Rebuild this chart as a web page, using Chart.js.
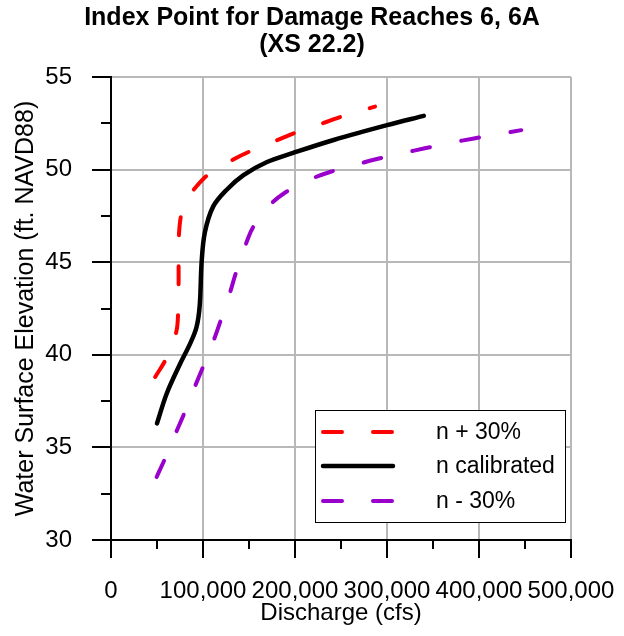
<!DOCTYPE html>
<html>
<head>
<meta charset="utf-8">
<title>Index Point for Damage Reaches 6, 6A</title>
<script src="https://cdn.jsdelivr.net/npm/chart.js@4.4.1/dist/chart.umd.min.js"></script>
<style>
html,body{margin:0;padding:0;background:#fff;}
#wrap{width:624px;height:636px;position:relative;}
</style>
</head>
<body>
<div id="wrap"><canvas id="rating"></canvas></div>
<script>
/* =========================
   DATA
========================= */
var xTickLabels = ["0","100,000","200,000","300,000","400,000","500,000"];

var plusQ = [48000,60000,71000,73000,73500,73500,74000,77000,84000,93000,107500,135000,155000,184000,204000,234000,254000,287000];
var plusW = [38.8,39.8,41.25,42.4,44.0,45.0,46.6,47.7,48.5,49.1,49.8,50.6,51.07,51.66,52.06,52.57,52.92,53.4];

var calQ = [50000,60500,75000,86000,93000,96500,98500,102000,111000,125500,144000,169000,198000,242000,300000,340000];
var calW = [36.3,37.9,39.5,40.6,41.5,42.7,45.0,46.6,48.0,48.9,49.7,50.4,50.9,51.6,52.4,52.9];

var minusQ = [49600,58700,70600,79700,91300,99700,111000,118500,129000,135000,145000,154000,171000,189000,215600,238000,267000,289000,318000,341000,370000,393000,423000,446000];
var minusW = [33.4,34.4,35.8,36.85,38.3,39.3,40.7,41.75,43.3,44.3,45.75,46.85,48.0,48.75,49.45,49.87,50.28,50.57,50.9,51.15,51.45,51.67,51.93,52.13];

var seriesNames = ["n + 30%","n calibrated","n - 30%"];

function toPoints(xs, ys){
var pts = [];
for(var i=0;i<xs.length;i++){
pts.push({x:xs[i], y:ys[i]});
}
return pts;
}

var FONT = "'Liberation Sans', Arial, sans-serif";

/* =========================
   OUTSIDE TICK MARKS (major + minor)
========================= */
var tickMarks = {
id:"tickMarks",
afterDraw:function(chart){
var ctx = chart.ctx;
var xs = chart.scales.x, ys = chart.scales.y;
var area = chart.chartArea;
ctx.save();
ctx.strokeStyle = "#000";
ctx.lineWidth = 2;
ctx.beginPath();
for(var v=xs.min; v<=xs.max; v+=50000){
var px = Math.round(xs.getPixelForValue(v));
var len = (v % 100000 === 0) ? 18 : 9;
ctx.moveTo(px, area.bottom);
ctx.lineTo(px, area.bottom + len);
}
for(var w=ys.min; w<=ys.max; w+=2.5){
var py = Math.round(ys.getPixelForValue(w));
var len2 = (w % 5 === 0) ? 19 : 10;
ctx.moveTo(area.left, py);
ctx.lineTo(area.left - len2, py);
}
ctx.stroke();
ctx.restore();
}
};

/* =========================
   LEGEND BOX (inside plot, lower right)
========================= */
var boxLegend = {
id:"boxLegend",
afterDatasetsDraw:function(chart){
var ctx = chart.ctx;
var area = chart.chartArea;
var left = area.right - 256, top = area.bottom - 130;
var w = 250, h = 112;
ctx.save();
ctx.fillStyle = "#fff";
ctx.fillRect(left, top, w, h);
ctx.strokeStyle = "#000";
ctx.lineWidth = 1;
ctx.strokeRect(left + 0.5, top + 0.5, w, h);

var rows = [22, 56, 91];
chart.data.datasets.forEach(function(ds, i){
var y = top + rows[i];
ctx.strokeStyle = ds.borderColor;
ctx.lineWidth = ds.borderWidth;
ctx.lineCap = "round";
ctx.setLineDash(ds.borderDash ? [19, 31] : []);
ctx.beginPath();
ctx.moveTo(left + 8, y);
ctx.lineTo(left + 78, y);
ctx.stroke();
ctx.setLineDash([]);
ctx.fillStyle = "#000";
ctx.font = "23px " + FONT;
ctx.textBaseline = "middle";
ctx.textAlign = "left";
ctx.fillText(ds.label, left + 121, y + 1);
});
ctx.restore();
}
};

/* =========================
   CHART
========================= */
var ctx = document.getElementById("rating").getContext("2d");

new Chart(ctx,{
type:"line",
data:{
datasets:[{
label:seriesNames[0],
data:toPoints(plusQ, plusW),
borderColor:"#ff0000",
borderWidth:4,
borderDash:[18,31],
borderCapStyle:"round",
tension:0.35
},{
label:seriesNames[1],
data:toPoints(calQ, calW),
borderColor:"#000000",
borderWidth:4.5,
borderCapStyle:"round",
tension:0.35
},{
label:seriesNames[2],
data:toPoints(minusQ, minusW),
borderColor:"#9900cc",
borderWidth:4,
borderDash:[18,32],
borderCapStyle:"round",
tension:0.35
}]
},
options:{
responsive:true,
maintainAspectRatio:false,
animation:false,
devicePixelRatio:1,
elements:{point:{radius:0}},
layout:{padding:0},
plugins:{
legend:{display:false},
tooltip:{enabled:false},
title:{
display:true,
text:["Index Point for Damage Reaches 6, 6A","(XS 22.2)"],
color:"#000",
font:{family:FONT, size:25, weight:"bold", lineHeight:1.1},
padding:{top:4, bottom:18}
}
},
scales:{
x:{
type:"linear",
min:0,
max:500000,
afterFit:function(scale){
scale.height = 96;
scale.paddingLeft = 0;
scale.paddingRight = 53;
},
ticks:{
stepSize:100000,
color:"#000",
font:{family:FONT, size:24},
padding:37,
maxRotation:0,
autoSkip:false,
callback:function(value){ return xTickLabels[Math.round(value/100000)]; }
},
grid:{color:"#b8b8b8", lineWidth:2, drawTicks:false},
border:{color:"#000", width:2},
title:{
display:true,
text:"Discharge (cfs)",
color:"#000",
font:{family:FONT, size:24},
padding:{top:0, bottom:8}
}
},
y:{
min:30,
max:55,
afterFit:function(scale){ scale.width = 111; },
ticks:{
stepSize:5,
color:"#000",
font:{family:FONT, size:24},
padding:39
},
grid:{color:"#b8b8b8", lineWidth:2, drawTicks:false},
border:{color:"#000", width:2},
title:{
display:true,
text:"Water Surface Elevation (ft. NAVD88)",
color:"#000",
font:{family:FONT, size:25},
padding:{top:11, bottom:0}
}
}
}
},
plugins:[tickMarks, boxLegend]
});
</script>
</body>
</html>
